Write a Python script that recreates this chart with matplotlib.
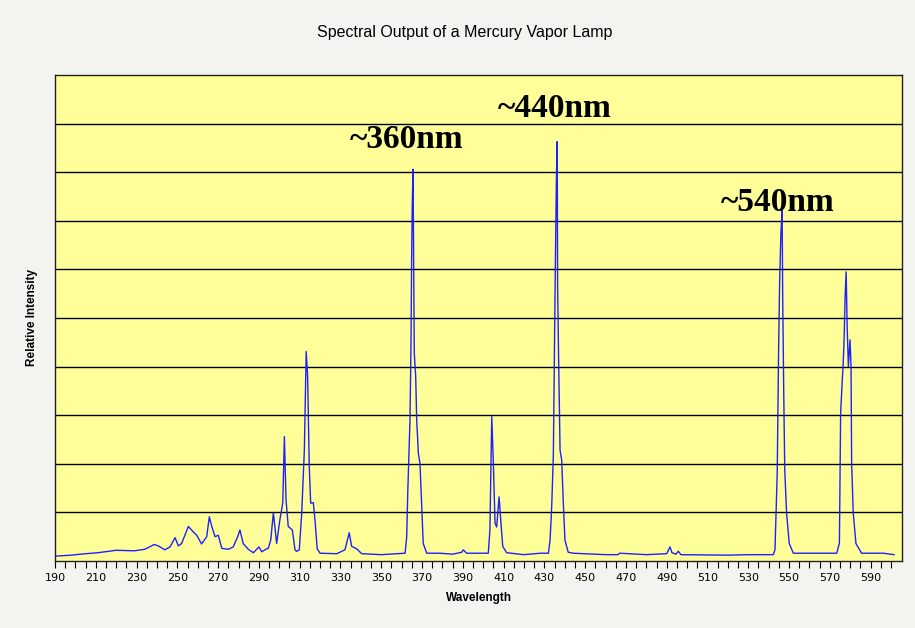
import numpy as np
import matplotlib
matplotlib.use("Agg")
import matplotlib.pyplot as plt

# wavelength (nm) and relative intensity
wavelength = [190, 198, 205, 211, 220, 229, 234, 238.7, 240.7, 243.9, 246.4, 248.9,
              250.5, 252.1, 255.4, 257.8, 259.5, 261.9, 264.4, 265.7, 266.9, 268.5,
              270.1, 271.8, 275, 277.4, 279.6, 280.7, 282.3, 284.8, 287.3, 290,
              291.4, 293.8, 294.6, 295.8, 297.1, 297.9, 298.7, 300.3, 301.7, 302.5,
              303.3, 304.4, 306.4, 307.7, 308.5, 309.8, 311.0, 312.3, 313.2, 313.9,
              314.7, 315.4, 316.7, 317.5, 318.6, 320, 328.2, 332.2, 334.3, 335.5,
              338, 340.4, 350, 361.7, 362.5, 363, 363.6, 364.1, 364.6, 364.9,
              365.2, 365.6, 365.9, 366.2, 366.9, 367.4, 368.2, 369, 369.8, 370.6,
              372.3, 378.8, 385, 389.5, 390.2, 391.9, 402.5, 403.3, 404.2, 405,
              405.8, 406.6, 407.8, 408.6, 409.6, 411.5, 420, 428, 432, 432.8,
              433.6, 434.4, 434.9, 435.4, 435.9, 436.3, 436.5, 437, 437.7, 438.5,
              439.3, 440.1, 441.7, 444.2, 460, 466, 467, 480, 490, 491.6,
              492.6, 494.5, 495.7, 497, 520, 530, 542.3, 543.1, 544.2, 544.9,
              545.4, 546, 546.6, 546.9, 547.4, 547.9, 548.8, 550.1, 552.1, 573.4,
              574.7, 575.3, 576.1, 576.5, 577, 577.5, 578, 578.5, 579.1, 579.9,
              580.4, 580.7, 581.5, 582.8, 585.6, 596.2, 601.5]
intensity = [0.10, 0.12, 0.15, 0.17, 0.22, 0.21, 0.24, 0.34, 0.31, 0.23, 0.29, 0.48,
             0.31, 0.36, 0.71, 0.60, 0.53, 0.35, 0.50, 0.91, 0.71, 0.50,
             0.53, 0.26, 0.24, 0.29, 0.50, 0.64, 0.36, 0.24, 0.17, 0.29,
             0.19, 0.25, 0.26, 0.43, 0.99, 0.67, 0.36, 0.85, 1.19, 2.56,
             1.26, 0.71, 0.64, 0.23, 0.20, 0.23, 0.98, 2.29, 4.31, 3.80,
             1.94, 1.19, 1.20, 0.85, 0.25, 0.16, 0.15, 0.23, 0.58, 0.30,
             0.25, 0.15, 0.13, 0.16, 0.50, 1.40, 2.22, 2.90, 4.48, 6.19,
             7.29, 8.06, 6.26, 4.28, 3.79, 2.90, 2.22, 2.01, 1.19, 0.36,
             0.16, 0.16, 0.14, 0.18, 0.23, 0.16, 0.16, 0.64, 2.97, 2.00,
             0.78, 0.70, 1.32, 0.84, 0.30, 0.17, 0.13, 0.16, 0.16, 0.43,
             1.12, 2.15, 4.14, 6.13, 7.84, 8.63, 5.65, 4.14, 2.28, 2.08,
             1.19, 0.43, 0.18, 0.16, 0.13, 0.13, 0.16, 0.13, 0.15, 0.29,
             0.17, 0.14, 0.20, 0.13, 0.12, 0.13, 0.13, 0.23, 1.80, 4.41,
             5.78, 6.74, 7.22, 5.37, 3.45, 1.87, 0.98, 0.36, 0.16, 0.16,
             0.37, 3.04, 3.72, 4.00, 4.55, 5.44, 5.95, 4.82, 4.00, 4.55,
             4.00, 2.01, 0.98, 0.36, 0.16, 0.16, 0.13]

peak_labels = ["~360nm", "~440nm", "~540nm"]
peak_label_x = [362.6, 435.2, 544.6]
peak_label_y = [8.50, 9.14, 7.20]

xticks_major = list(range(190, 600, 20))

fig = plt.figure(figsize=(9.15, 6.28), dpi=100)
fig.patch.set_facecolor("#f3f3ef")
ax = fig.add_axes([0.0601, 0.1067, 0.9257, 0.7739])
ax.set_facecolor("#ffff99")

ax.plot(wavelength, intensity, color="#1f1fff", lw=1.0)

ax.set_xlim(190, 605.4)
ax.set_ylim(0, 10)
ax.set_xticks(xticks_major)
ax.set_xticks(list(range(190, 605, 5)), minor=True)
ax.tick_params(axis="x", which="both", length=5, width=0.8, direction="out", colors="black",
               labelsize=8, pad=4)
ax.set_yticks(range(1, 10))
ax.tick_params(axis="y", which="both", length=0, labelleft=False)
ax.grid(axis="y", color="black", lw=1.0)
ax.set_axisbelow(True)
for s in ax.spines.values():
    s.set_color("#222222")
    s.set_linewidth(1.0)

for txt, x, y in zip(peak_labels, peak_label_x, peak_label_y):
    ax.text(x, y, txt, ha="center", va="baseline", fontsize=24, fontweight="bold",
            family="Liberation Serif")

fig.text(0.508, 0.949, "Spectral Output of a Mercury Vapor Lamp", ha="center", va="center",
         fontsize=11.5, family="Liberation Sans")
ax.set_xlabel("Wavelength", fontsize=8.5, fontweight="bold", family="Liberation Sans", labelpad=6)
ax.set_ylabel("Relative Intensity", fontsize=8.5, fontweight="bold", family="Liberation Sans",
              labelpad=12)

fig.savefig("out.png", dpi=100, facecolor=fig.get_facecolor())
